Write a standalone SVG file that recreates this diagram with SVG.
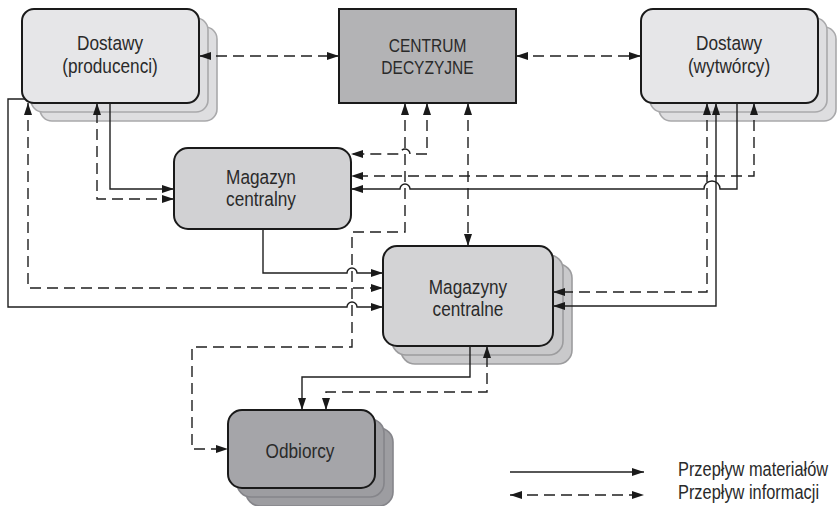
<svg xmlns="http://www.w3.org/2000/svg" width="839" height="506" viewBox="0 0 839 506">
<defs>
<marker id="ah" markerUnits="userSpaceOnUse" markerWidth="13" markerHeight="9" refX="12" refY="4" orient="auto-start-reverse">
<path d="M0,0 L12,4 L0,8 z" fill="#1a1a1a"/>
</marker>
<style>
.t{font-family:"Liberation Sans",Arial,sans-serif;font-size:20.5px;fill:#2a2a2a;text-anchor:middle}
.tc{font-size:18.5px}
.lg{text-anchor:start;font-size:19.5px}
.mat{fill:none;stroke:#1f1f1f;stroke-width:1.4}
.inf{fill:none;stroke:#1f1f1f;stroke-width:1.4;stroke-dasharray:11 6}
.arr{marker-end:url(#ah)}
.bi{marker-start:url(#ah);marker-end:url(#ah)}
.fr{stroke:#1a1a1a;stroke-width:2}
.bkL{fill:#dedee0;stroke:#a9a9ab;stroke-width:1.6}
.bkM{fill:#c9c9cb;stroke:#9c9c9e;stroke-width:1.6}
.bkD{fill:#9d9da1;stroke:#85858a;stroke-width:1.6}
</style>
</defs>

<g id="dostawy-producenci">
<rect class="bkL" x="40" y="27" width="177" height="94" rx="12"/>
<rect class="bkL" x="31" y="18" width="177" height="94" rx="12"/>
<rect class="fr" x="22" y="9" width="177" height="94" rx="12" fill="#e6e6e8"/>
<text class="t" transform="translate(110,50) scale(0.84,1)">Dostawy</text>
<text class="t" transform="translate(110,73) scale(0.84,1)">(producenci)</text>
</g>

<g id="centrum-decyzyjne">
<rect class="fr" x="339" y="9" width="177" height="94" fill="#b3b3b5"/>
<text class="t tc" transform="translate(427.5,52) scale(0.84,1)">CENTRUM</text>
<text class="t tc" transform="translate(427.5,74) scale(0.84,1)">DECYZYJNE</text>
</g>

<g id="dostawy-wytworcy">
<rect class="bkL" x="659" y="27" width="177" height="94" rx="12"/>
<rect class="bkL" x="650" y="18" width="177" height="94" rx="12"/>
<rect class="fr" x="641" y="9" width="177" height="94" rx="12" fill="#e6e6e8"/>
<text class="t" transform="translate(729,50) scale(0.84,1)">Dostawy</text>
<text class="t" transform="translate(729,73) scale(0.84,1)">(wytwórcy)</text>
</g>

<g id="magazyn-centralny">
<rect class="fr" x="174" y="148" width="177" height="81" rx="14" fill="#d1d1d3"/>
<text class="t" transform="translate(261,184) scale(0.84,1)">Magazyn</text>
<text class="t" transform="translate(261,206) scale(0.84,1)">centralny</text>
</g>

<g id="magazyny-centralne">
<rect class="bkM" x="401" y="264" width="171" height="100" rx="14"/>
<rect class="bkM" x="392" y="255" width="171" height="100" rx="14"/>
<rect class="fr" x="383" y="246" width="170" height="100" rx="14" fill="#d3d3d5"/>
<text class="t" transform="translate(468,294) scale(0.84,1)">Magazyny</text>
<text class="t" transform="translate(468,316) scale(0.84,1)">centralne</text>
</g>

<g id="odbiorcy">
<rect class="bkD" x="246" y="428" width="147" height="78" rx="14"/>
<rect class="bkD" x="237" y="419" width="147" height="78" rx="14"/>
<rect class="fr" x="228" y="410" width="147" height="78" rx="14" fill="#a5a5a9"/>
<text class="t" transform="translate(300,458) scale(0.84,1)">Odbiorcy</text>
</g>

<g id="connectors">
<path class="mat arr" d="M110,103 V189 H174"/>
<path class="mat arr" d="M25,99 H8 V307 H347 A5,5 0 0 1 357,307 H383"/>
<path class="mat arr" d="M263,229 V273 H347 A5,5 0 0 1 357,273 H383"/>
<path class="mat arr" d="M737,103 V189 H720 A8,8 0 0 0 704,189 H410 A5,5 0 0 0 400,189 H351"/>
<path class="mat bi" d="M553,306 H716 V103"/>
<path class="mat arr" d="M470,346 V377 H302 V410"/>

<path class="inf bi" d="M199,56 H339"/>
<path class="inf bi" d="M516,56 H641"/>
<path class="inf bi" d="M174,199 H97 V103"/>
<path class="inf bi" d="M28,103 V288 H383"/>
<path class="inf bi" d="M427,103 V154 H410 A5,5 0 0 0 400,154 H351"/>
<path class="inf bi" d="M405,103 V232 H352 V347 H192 V449 H228"/>
<path class="inf bi" d="M468,103 V246"/>
<path class="inf bi" d="M754,103 V176 H351"/>
<path class="inf bi" d="M707,103 V292 H553"/>
<path class="inf bi" d="M326,410 V392 H487 V346"/>
</g>

<g id="legend">
<path class="mat arr" d="M510,472 H644"/>
<path class="inf bi" d="M510,495 H644"/>
<text class="t lg" transform="translate(678,476) scale(0.84,1)">Przepływ materiałów</text>
<text class="t lg" transform="translate(678,499) scale(0.84,1)">Przepływ informacji</text>
</g>
</svg>
